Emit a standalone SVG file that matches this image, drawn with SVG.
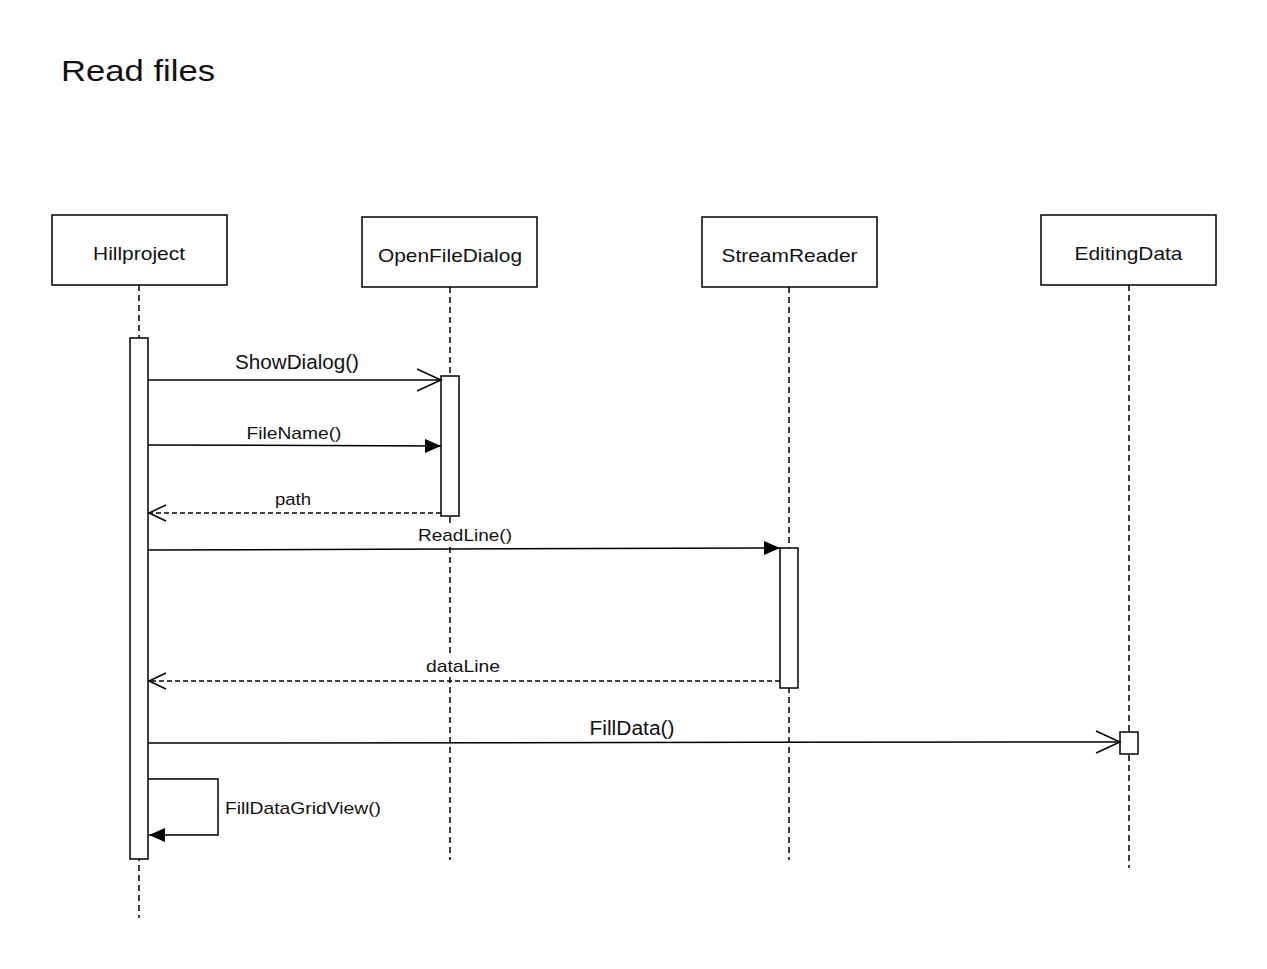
<svg xmlns="http://www.w3.org/2000/svg" width="1267" height="969" viewBox="0 0 1267 969">
<style>
.box{fill:#fff;stroke:#000;stroke-width:1.5}
.life{fill:none;stroke:#000;stroke-width:1.5;stroke-dasharray:6 4}
.act{fill:#fff;stroke:#000;stroke-width:1.5}
.msg{fill:none;stroke:#000;stroke-width:1.5}
.ret{fill:none;stroke:#000;stroke-width:1.5;stroke-dasharray:5 3}
.lbl{font-family:"Liberation Sans",Arial,sans-serif;fill:#111}
.bg{fill:#fff;stroke:none}
</style>
<defs>
<marker id="openBig" markerUnits="userSpaceOnUse" markerWidth="28" markerHeight="26" refX="25" refY="12" orient="auto">
<path d="M1,1 L25,12 L1,23" fill="none" stroke="#000" stroke-width="1.5"/>
</marker>
<marker id="openSmall" markerUnits="userSpaceOnUse" markerWidth="22" markerHeight="20" refX="18" refY="9" orient="auto">
<path d="M1,1 L18,9 L1,17" fill="none" stroke="#000" stroke-width="1.5"/>
</marker>
<marker id="filled" markerUnits="userSpaceOnUse" markerWidth="18" markerHeight="16" refX="16" refY="7" orient="auto">
<path d="M0,0 L16,7 L0,14 Z" fill="#000"/>
</marker>
</defs>
<rect width="1267" height="969" fill="#fff"/>
<text class="lbl" x="61" y="81" font-size="30" textLength="154" lengthAdjust="spacingAndGlyphs">Read files</text>

<g id="hillproject">
<line class="life" x1="139" y1="285" x2="139" y2="918"/>
<rect class="box" x="52" y="215" width="175" height="70"/>
<text class="lbl" x="139" y="260" font-size="18.5" text-anchor="middle" textLength="92" lengthAdjust="spacingAndGlyphs">Hillproject</text>
<rect class="act" x="130" y="338" width="18" height="521"/>
</g>
<g id="openfiledialog">
<line class="life" x1="450" y1="287" x2="450" y2="860"/>
<rect class="box" x="362" y="217" width="175" height="70"/>
<text class="lbl" x="450" y="262" font-size="18.5" text-anchor="middle" textLength="144" lengthAdjust="spacingAndGlyphs">OpenFileDialog</text>
<rect class="act" x="441" y="376" width="18" height="140"/>
</g>
<g id="streamreader">
<line class="life" x1="789" y1="287" x2="789" y2="860"/>
<rect class="box" x="702" y="217" width="175" height="70"/>
<text class="lbl" x="789.5" y="262" font-size="18.5" text-anchor="middle" textLength="136" lengthAdjust="spacingAndGlyphs">StreamReader</text>
<rect class="act" x="780" y="548" width="18" height="140"/>
</g>
<g id="editingdata">
<line class="life" x1="1129" y1="285" x2="1129" y2="868"/>
<rect class="box" x="1041" y="215" width="175" height="70"/>
<text class="lbl" x="1128.5" y="260" font-size="18.5" text-anchor="middle" textLength="108" lengthAdjust="spacingAndGlyphs">EditingData</text>
<rect class="act" x="1120" y="732" width="18" height="22"/>
</g>

<g id="connectors">
<line class="msg" x1="148" y1="380" x2="441" y2="380" marker-end="url(#openBig)"/>
<text class="lbl" x="297" y="369" font-size="19.5" text-anchor="middle" textLength="124" lengthAdjust="spacingAndGlyphs">ShowDialog()</text>

<line class="msg" x1="148" y1="445" x2="441" y2="446" marker-end="url(#filled)"/>
<text class="lbl" x="294" y="439" font-size="17" text-anchor="middle" textLength="95" lengthAdjust="spacingAndGlyphs">FileName()</text>

<line class="ret" x1="441" y1="513" x2="149" y2="513" marker-end="url(#openSmall)"/>
<text class="lbl" x="293" y="505" font-size="17" text-anchor="middle" textLength="36" lengthAdjust="spacingAndGlyphs">path</text>

<line class="msg" x1="148" y1="550" x2="780" y2="548" marker-end="url(#filled)"/>
<rect class="bg" x="416" y="526" width="98" height="20"/>
<text class="lbl" x="465" y="541" font-size="17" text-anchor="middle" textLength="94" lengthAdjust="spacingAndGlyphs">ReadLine()</text>

<line class="ret" x1="780" y1="681" x2="149" y2="681" marker-end="url(#openSmall)"/>
<rect class="bg" x="424" y="657" width="78" height="20"/>
<text class="lbl" x="463" y="672" font-size="17" text-anchor="middle" textLength="74" lengthAdjust="spacingAndGlyphs">dataLine</text>

<line class="msg" x1="148" y1="743" x2="1120" y2="742" marker-end="url(#openBig)"/>
<text class="lbl" x="632" y="735" font-size="19.5" text-anchor="middle" textLength="85" lengthAdjust="spacingAndGlyphs">FillData()</text>

<polyline class="msg" points="148,779 218,779 218,835 149,835" marker-end="url(#filled)"/>
<text class="lbl" x="225" y="814" font-size="17" textLength="156" lengthAdjust="spacingAndGlyphs">FillDataGridView()</text>
</g>
</svg>
